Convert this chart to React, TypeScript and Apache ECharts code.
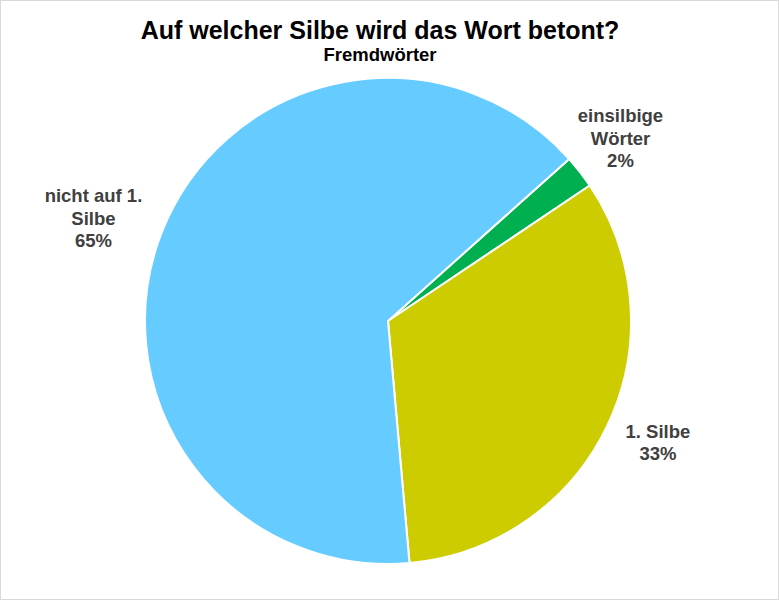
import React, { useRef, useEffect } from "react";
import * as echarts from "echarts";

const categories = ["einsilbige\nWörter", "1. Silbe", "nicht auf 1.\nSilbe"];
const values = [2.2, 33.0, 64.8];
const colors = ["#00B050", "#CCCC00", "#66CCFF"];
// label placement: distance from the pie's rim to the label centre, and a small angle nudge
const labelGaps = [52.6, 53, 69];
const labelNudges = [0.3, 1.3, 2.3];

const CX = 387;
const CY = 320;
const R = 243;
const START = 41.8; // degrees, counter-clockwise from 3 o'clock

const App = function () {
  const chart = useRef<HTMLDivElement>(null);
  useEffect(() => {
    document.body.style.margin = "0";
    if (!chart.current) return;
    const myChart = echarts.init(chart.current, null, { renderer: "svg" });
    const total = values.reduce((a, b) => a + b, 0);
    const midAngle = (idx: number) => {
      let before = 0;
      for (let i = 0; i < idx; i++) before += values[i];
      const mid = before + values[idx] / 2;
      return START - (mid / total) * 360; // clockwise
    };
    const option = {
      animation: false,
      backgroundColor: "#fff",
      title: {
        text: "Auf welcher Silbe wird das Wort betont?",
        subtext: "Fremdwörter",
        left: 374,
        textAlign: "center",
        top: 11,
        itemGap: 3,
        textStyle: {
          color: "#000",
          fontFamily: "Liberation Sans, Arial, sans-serif",
          fontWeight: "bold",
          fontSize: 25,
        },
        subtextStyle: {
          color: "#000",
          fontFamily: "Liberation Sans, Arial, sans-serif",
          fontWeight: "bold",
          fontSize: 18.5,
        },
      },
      series: [
        {
          type: "pie",
          center: [CX, CY],
          radius: [0, R],
          startAngle: START,
          clockwise: true,
          percentPrecision: 0,
          itemStyle: {
            borderColor: "#fff",
            borderWidth: 2,
          },
          label: {
            show: true,
            position: "outside",
            formatter: "{b}\n{d}%",
            color: "#404040",
            fontFamily: "Liberation Sans, Arial, sans-serif",
            fontWeight: "bold",
            fontSize: 18.5,
            lineHeight: 22.5,
            align: "center",
          },
          labelLine: { show: false },
          labelLayout: (params: any) => {
            const i = params.dataIndex;
            const a = ((midAngle(i) + labelNudges[i]) * Math.PI) / 180;
            const r = R + labelGaps[i];
            return {
              x: CX + r * Math.cos(a),
              y: CY - r * Math.sin(a),
              align: "center",
              verticalAlign: "middle",
            };
          },
          data: categories.map((name, i) => ({
            name,
            value: values[i],
            itemStyle: { color: colors[i] },
          })),
        },
      ],
    };
    myChart.setOption(option);
    return () => {
      myChart.dispose();
    };
  }, []);
  return (
    <div
      ref={chart}
      style={{
        width: 779,
        height: 600,
        border: "1px solid #d9d9d9",
        boxSizing: "border-box",
      }}
    ></div>
  );
};
export default App;
